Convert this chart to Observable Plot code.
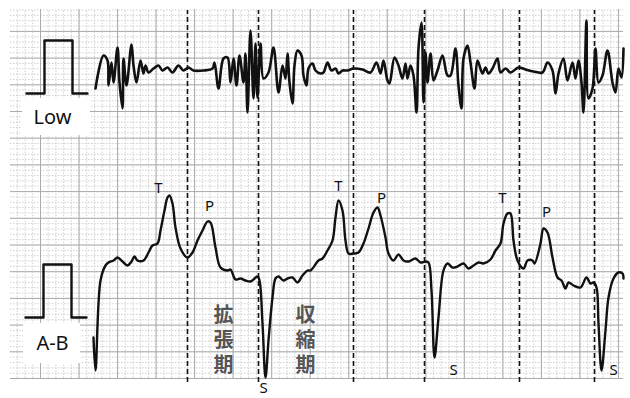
<!DOCTYPE html>
<html><head><meta charset="utf-8">
<script src="https://cdn.jsdelivr.net/npm/d3@7"></script>
<script src="https://cdn.jsdelivr.net/npm/@observablehq/plot@0.6"></script>
<style>body{margin:0;background:#fff;overflow:hidden}</style>
</head><body><div id="chart"></div>
<script>
// "Low" trace: time (arbitrary units) and height above the bottom grid edge
const lowTime = [85,93,97,98,101,103,107,109,112,113,116,121,123,126,130,133,135,138,143,148,152,157,162,168,173,178,183,193,202,204,208,213,217,220,223,226,229,233,235,237,240,243,245,247,250,253,258,263,268,272,275,277,279,282,284,287,291,293,296,298,302,305,310,313,317,321,325,328,332,337,343,352,360,366,370,373,377,379,384,388,392,395,397,400,403,406,408,411,413,415,417,420,423,427,432,437,440,445,448,451,453,457,460,464,467,472,475,478,482,487,490,495,500,508,515,523,532,537,542,545,548,553,557,562,565,568,571,573,576,578,582,585,588,592,597,602,605,608,611,613];
const lowAmp  = [290,323,318,293,316,296,331,296,270,320,293,334,313,296,318,305,313,306,310,313,308,311,306,313,308,311,308,308,310,316,290,320,321,296,320,293,323,296,325,266,348,280,335,281,335,300,306,331,286,313,300,325,296,275,313,328,323,303,293,310,315,308,305,306,316,308,310,305,308,308,310,309,306,316,305,318,298,295,321,313,300,315,300,313,303,266,330,356,276,326,296,325,298,308,323,303,303,330,293,270,320,333,316,290,318,305,311,305,310,320,306,310,306,311,309,307,306,316,308,285,305,320,298,316,300,318,296,266,358,280,290,330,296,303,328,296,286,310,301,330];
// "A-B" trace
const abTime = [83,85,90,95,98,103,107,112,117,121,124,127,133,138,142,147,150,154,157,159,162,165,170,177,182,187,192,197,200,205,210,217,220,225,230,235,240,247,249,252,255,258,262,265,268,273,277,282,287,292,297,300,308,312,317,322,325,328,332,335,338,343,348,353,358,363,367,370,375,378,383,388,393,398,405,410,415,418,421,424,428,433,437,442,447,453,458,463,468,473,480,485,490,493,497,500,503,507,513,517,522,524,530,533,537,542,547,551,555,558,563,570,576,580,583,586,588,591,595,598,603,608,612,613];
const abAmp  = [41,8,98,113,116,118,121,117,113,117,122,118,118,126,133,135,148,168,181,183,175,151,130,121,126,138,148,157,156,131,111,108,109,99,100,98,97,102,98,55,1,38,81,100,102,98,100,101,96,103,108,108,118,120,128,138,161,178,168,138,125,125,126,135,150,166,171,163,141,125,118,124,118,117,120,116,117,116,88,21,61,108,115,111,112,115,110,113,116,115,119,128,135,155,165,165,138,118,110,118,118,115,135,150,146,121,101,98,90,96,93,91,101,95,96,91,55,8,48,81,100,106,105,100];
// calibration pulses
const pulseTime = [0,18,18,46,46,61];
const pulseAmp  = [0,0,53,53,0,0];
const pulseOrigin = [{name:"Low", t:16, a:285, lt:42, la:261}, {name:"A-B", t:15, a:61, lt:42, la:35}];
// phase boundaries (dashed)
const boundaries = [177,248,343,414,509,584];
// wave labels
const waveLabels = ["T","P","S","T","P","S","T","P","S"];
const waveTime   = [148,199,253,328,371,443,492,536,603];
const waveAmp    = [190,172,-10,192,180,8,180,166,8];
// phase names (written vertically)
const phases = ["拡張期","収縮期"];
const phaseTime = [213,295];

const lowData = lowTime.map((t,i)=>({t, a: lowAmp[i]}));
const abData = abTime.map((t,i)=>({t, a: abAmp[i]}));
const pulses = pulseOrigin.flatMap(p => pulseTime.map((t,i)=>({name:p.name, t: p.t + t, a: p.a + pulseAmp[i]})));
const waves = waveLabels.map((s,i)=>({s, t: waveTime[i], a: waveAmp[i]}));
const phaseData = phases.map((p,i)=>({text: p, t: phaseTime[i], a: 43}));

const major = 38.53, minorX = major/5;
const majorY = 26.7, minorY = majorY/5;
const xMinor = d3.range(30 - 3*minorX, 613, minorX).filter(v => v > 0);
const xMajor = d3.range(30, 613, major);
const yMinor = d3.range(minorY, 369, minorY);
const yMajor = d3.range(0, 369, majorY);

const chart = Plot.plot({
  width: 630, height: 398,
  x: {domain: [0, 613], range: [10, 623], axis: null},
  y: {domain: [0, 369], range: [378, 9], axis: null},
  marks: [
    Plot.ruleX(xMinor, {y1: 0, y2: 369, stroke: "#c4c4c4", strokeWidth: 0.8, strokeDasharray: "1.5,1.5"}),
    Plot.ruleY(yMinor, {x1: 0, x2: 613, stroke: "#c4c4c4", strokeWidth: 0.8, strokeDasharray: "1.5,1.5"}),
    Plot.ruleX(xMajor, {y1: 0, y2: 369, stroke: "#ababab", strokeWidth: 1}),
    Plot.ruleY(yMajor, {x1: 0, x2: 613, stroke: "#ababab", strokeWidth: 1}),
    Plot.rect([{x1: 12, x2: 80, y1: 243, y2: 280}, {x1: 13, x2: 70, y1: 15, y2: 55}], {x1: "x1", x2: "x2", y1: "y1", y2: "y2", fill: "white"}),
    Plot.ruleX(boundaries, {y1: -4, y2: 368, stroke: "#111", strokeWidth: 1.6, strokeDasharray: "5,3"}),
    Plot.line(pulses, {x: "t", y: "a", z: "name", stroke: "#111", strokeWidth: 2.4}),
    Plot.line(lowData, {x: "t", y: "a", stroke: "#111", strokeWidth: 2.6, strokeLinejoin: "round", curve: "catmull-rom"}),
    Plot.line(abData, {x: "t", y: "a", stroke: "#111", strokeWidth: 2.4, strokeLinejoin: "round", curve: "catmull-rom"}),
    Plot.text(pulseOrigin, {x: "lt", y: "la", text: "name", fontSize: 20, fill: "#111", fontFamily: "Noto Sans"}),
    Plot.text(waves, {x: "t", y: "a", text: "s", fontSize: 15, fill: "#111", fontFamily: "Noto Sans"}),
    Plot.text(phaseData, {x: "t", y: "a", text: "text", fontSize: 20, fill: "#555", fontWeight: 700, fontFamily: "Noto Sans CJK JP"})
  ]
});
// render the phase names vertically (tategaki)
d3.select(chart).selectAll("text").filter(function(){ return phases.includes(this.textContent); })
  .each(function(){
    this.removeAttribute("dy");
    d3.select(this).selectAll("tspan").attr("dy", null);
    this.style.writingMode = "vertical-rl";
    this.style.letterSpacing = "5px";
  });
document.getElementById("chart").append(chart);
</script>
</body></html>
